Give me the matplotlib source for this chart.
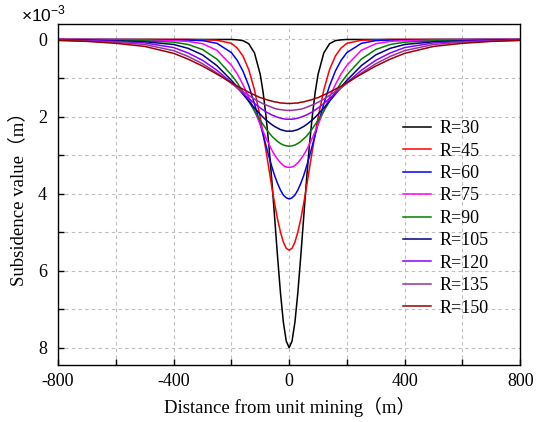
import numpy as np
import matplotlib
matplotlib.use("Agg")
import matplotlib.pyplot as plt
from matplotlib.ticker import MultipleLocator

# half profiles (x >= 0), the curves are symmetric about x = 0
# subsidence values in units of 1e-3 m
x_half = [0, 10, 20, 30, 40, 50, 60, 70, 80, 90, 100, 120, 140, 160, 180,
          200, 250, 300, 350, 400, 500, 600, 700, 800]

w_r30 = [8.00, 7.83, 7.34, 6.58, 5.65, 4.65, 3.66, 2.76, 2.00, 1.38, 0.91, 0.35,
         0.11, 0.03, 0.01, 0.00, 0.00, 0.00, 0.00, 0.00, 0.00, 0.00, 0.00, 0.00]
w_r45 = [5.47, 5.42, 5.26, 5.00, 4.67, 4.27, 3.83, 3.36, 2.90, 2.45, 2.03, 1.31,
         0.78, 0.43, 0.22, 0.10, 0.02, 0.01, 0.00, 0.00, 0.00, 0.00, 0.00, 0.00]
w_r60 = [4.14, 4.11, 4.04, 3.91, 3.74, 3.54, 3.30, 3.04, 2.76, 2.48, 2.20, 1.67,
         1.20, 0.82, 0.54, 0.34, 0.10, 0.03, 0.015, 0.01, 0.005, 0.003, 0.002, 0.00]
w_r75 = [3.32, 3.31, 3.27, 3.20, 3.11, 3.00, 2.87, 2.72, 2.56, 2.39, 2.21, 1.85,
         1.50, 1.17, 0.89, 0.67, 0.28, 0.11, 0.05, 0.03, 0.015, 0.01, 0.005, 0.00]
w_r90 = [2.77, 2.76, 2.74, 2.70, 2.65, 2.58, 2.51, 2.42, 2.32, 2.21, 2.10, 1.86,
         1.60, 1.36, 1.12, 0.92, 0.51, 0.26, 0.13, 0.07, 0.035, 0.02, 0.01, 0.005]
w_r105 = [2.38, 2.38, 2.36, 2.34, 2.30, 2.26, 2.21, 2.15, 2.09, 2.02, 1.94, 1.78,
          1.60, 1.42, 1.23, 1.06, 0.68, 0.40, 0.23, 0.13, 0.06, 0.035, 0.02, 0.01]
w_r120 = [2.07, 2.07, 2.06, 2.04, 2.02, 1.99, 1.96, 1.92, 1.88, 1.83, 1.78, 1.66,
          1.53, 1.40, 1.26, 1.12, 0.80, 0.54, 0.35, 0.21, 0.09, 0.05, 0.03, 0.015]
w_r135 = [1.84, 1.84, 1.83, 1.82, 1.81, 1.79, 1.76, 1.73, 1.70, 1.67, 1.63, 1.55,
          1.45, 1.35, 1.25, 1.14, 0.87, 0.63, 0.44, 0.29, 0.13, 0.07, 0.04, 0.02]
w_r150 = [1.66, 1.66, 1.65, 1.65, 1.63, 1.62, 1.60, 1.58, 1.56, 1.53, 1.51, 1.44,
          1.37, 1.29, 1.21, 1.12, 0.90, 0.69, 0.51, 0.36, 0.18, 0.10, 0.05, 0.025]

series = [w_r30, w_r45, w_r60, w_r75, w_r90, w_r105, w_r120, w_r135, w_r150]
labels = ["R=30", "R=45", "R=60", "R=75", "R=90", "R=105", "R=120", "R=135", "R=150"]
colors = ["#000000", "#FF0000", "#0000FF", "#FF00FF", "#008000",
          "#000080", "#8B00FF", "#993399", "#990000"]

serif = ["Liberation Serif", "Noto Sans CJK SC"]
plt.rcParams["mathtext.fontset"] = "custom"
plt.rcParams["mathtext.rm"] = "Liberation Sans"
plt.rcParams["axes.unicode_minus"] = False

fig = plt.figure(figsize=(5.43, 4.22), dpi=100)
ax = fig.add_axes([0.107, 0.135, 0.851, 0.808])

xh = np.array(x_half, dtype=float)
x_full = np.concatenate([-xh[::-1], xh[1:]])
for w, lab, c in zip(series, labels, colors):
    wh = np.array(w)
    w_full = np.concatenate([wh[::-1], wh[1:]])
    ax.plot(x_full, w_full, color=c, lw=1.1, label=lab)

ax.set_xlim(-800, 800)
ax.set_ylim(8.45, -0.4)

ax.xaxis.set_major_locator(MultipleLocator(400))
ax.xaxis.set_minor_locator(MultipleLocator(200))
ax.yaxis.set_major_locator(MultipleLocator(2))
ax.yaxis.set_minor_locator(MultipleLocator(1))
ax.grid(True, which="both", ls=(0, (3, 3)), color="#BDBDBD", lw=0.8)
ax.set_axisbelow(True)
ax.tick_params(which="both", direction="in", length=4, width=1, top=False, right=False)
ax.tick_params(axis="y", pad=8)
ax.tick_params(axis="x", pad=6)
ax.tick_params(labelsize=13)
for t in ax.get_xticklabels() + ax.get_yticklabels():
    t.set_family(serif)
for s in ax.spines.values():
    s.set_linewidth(1.0)

ax.set_xlabel("Distance from unit mining（m）", family=serif, fontsize=13.5, labelpad=5)
ax.set_ylabel("Subsidence value（m）", family=serif, fontsize=13.5, labelpad=8)

fig.text(0.038, 0.966, r"×10$^{-3}$", fontsize=12.5, va="center",
         family="Liberation Sans")

leg = ax.legend(loc="upper left", bbox_to_anchor=(0.72, 0.755), frameon=False,
                prop={"family": serif, "size": 13}, handlelength=1.5,
                labelspacing=0.3, handletextpad=0.5, borderpad=0.2)

fig.savefig("out.png", dpi=100)
